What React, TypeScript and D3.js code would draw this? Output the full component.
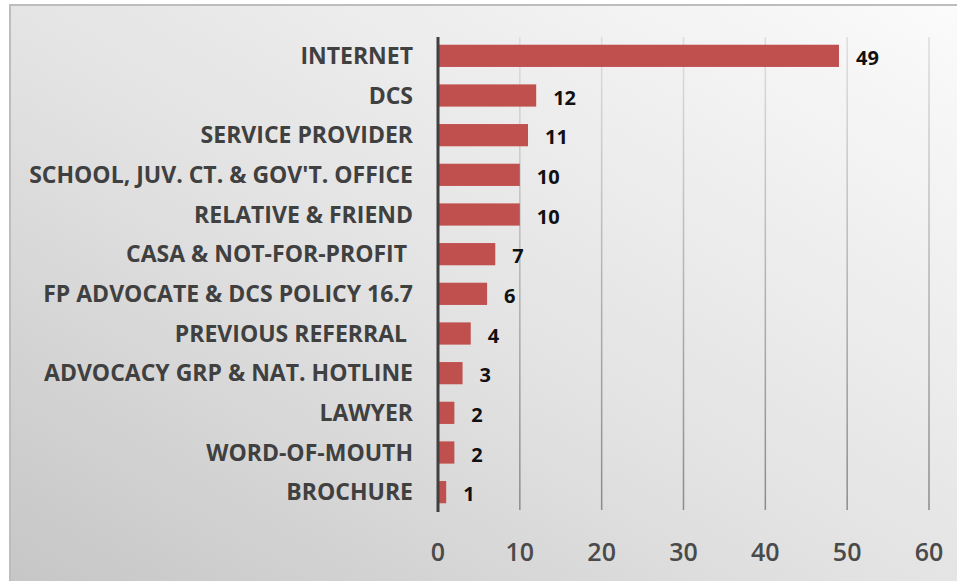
import React, { useEffect, useRef } from 'react';
import * as d3 from 'd3';

const categories = [
  'INTERNET',
  'DCS',
  'SERVICE PROVIDER',
  "SCHOOL, JUV. CT. & GOV'T. OFFICE",
  'RELATIVE & FRIEND',
  'CASA & NOT-FOR-PROFIT ',
  'FP ADVOCATE & DCS POLICY 16.7',
  'PREVIOUS REFERRAL ',
  'ADVOCACY GRP & NAT. HOTLINE',
  'LAWYER',
  'WORD-OF-MOUTH',
  'BROCHURE',
];
const counts = [49, 12, 11, 10, 10, 7, 6, 4, 3, 2, 2, 1];
const xTicks = [0, 10, 20, 30, 40, 50, 60];

const width = 957;
const height = 581;

const App = () => {
  const ref = useRef<SVGSVGElement>(null);

  useEffect(() => {
    const svg = d3.select(ref.current);
    svg.selectAll('*').remove();

    const defs = svg.append('defs');
    const bg = defs
      .append('linearGradient')
      .attr('id', 'bg')
      .attr('x1', 1)
      .attr('y1', 0)
      .attr('x2', 0)
      .attr('y2', 1);
    bg.append('stop').attr('offset', 0).attr('stop-color', '#fbfbfb');
    bg.append('stop').attr('offset', 0.55).attr('stop-color', '#e2e2e2');
    bg.append('stop').attr('offset', 1).attr('stop-color', '#c6c6c6');

    const gl = defs
      .append('linearGradient')
      .attr('id', 'grid')
      .attr('gradientUnits', 'userSpaceOnUse')
      .attr('x1', 0)
      .attr('y1', 37)
      .attr('x2', 0)
      .attr('y2', 510);
    gl.append('stop').attr('offset', 0).attr('stop-color', '#dedede');
    gl.append('stop').attr('offset', 1).attr('stop-color', '#8a8a8a');

    // panel with a soft edge
    svg
      .append('rect')
      .attr('x', 9)
      .attr('y', 4)
      .attr('width', width)
      .attr('height', height)
      .attr('fill', '#bdbdbd');
    svg
      .append('rect')
      .attr('x', 11)
      .attr('y', 6)
      .attr('width', width)
      .attr('height', height)
      .attr('fill', 'url(#bg)');

    const x = d3.scaleLinear().domain([0, 60]).range([438, 929]);
    const y = d3
      .scaleBand()
      .domain(categories)
      .range([36, 512])
      .paddingInner(0.44)
      .paddingOuter(0.22);

    svg
      .append('g')
      .selectAll('line')
      .data(xTicks.slice(1))
      .join('line')
      .attr('x1', (d) => x(d))
      .attr('x2', (d) => x(d))
      .attr('y1', 37)
      .attr('y2', 510)
      .attr('stroke', 'url(#grid)')
      .attr('stroke-width', 1.5);

    const rows = categories.map((c, i) => ({ c, v: counts[i] }));

    svg
      .append('g')
      .selectAll('rect')
      .data(rows)
      .join('rect')
      .attr('x', x(0))
      .attr('y', (d) => y(d.c)!)
      .attr('width', (d) => x(d.v) - x(0))
      .attr('height', y.bandwidth())
      .attr('fill', '#c0504d');

    svg
      .append('line')
      .attr('x1', x(0))
      .attr('x2', x(0))
      .attr('y1', 37)
      .attr('y2', 512)
      .attr('stroke', '#404040')
      .attr('stroke-width', 3);

    svg
      .append('g')
      .selectAll('text')
      .data(rows)
      .join('text')
      .attr('x', 413)
      .attr('y', (d) => y(d.c)! + y.bandwidth() / 2)
      .attr('dy', '0.35em')
      .attr('text-anchor', 'end')
      .attr('font-family', '"Open Sans", sans-serif')
      .attr('font-weight', 'bold')
      .attr('font-size', 23)
      .attr('fill', '#404040')
      .style('white-space', 'pre')
      .text((d) => d.c);

    svg
      .append('g')
      .selectAll('text')
      .data(rows)
      .join('text')
      .attr('x', (d) => x(d.v) + 17)
      .attr('y', (d) => y(d.c)! + y.bandwidth() / 2 + 2)
      .attr('dy', '0.35em')
      .attr('font-family', '"Open Sans", sans-serif')
      .attr('font-weight', 'bold')
      .attr('font-size', 20)
      .attr('fill', '#111')
      .text((d) => d.v);

    svg
      .append('g')
      .selectAll('text')
      .data(xTicks)
      .join('text')
      .attr('x', (d) => x(d))
      .attr('y', 552)
      .attr('dy', '0.35em')
      .attr('text-anchor', 'middle')
      .attr('font-family', '"Open Sans", sans-serif')
      .attr('font-weight', 600)
      .attr('font-size', 25)
      .attr('fill', '#4a4a4a')
      .text((d) => d);
  }, []);

  return (
    <svg
      ref={ref}
      width={width}
      height={height}
      style={{ position: 'absolute', left: 0, top: 0, background: '#fff' }}
    />
  );
};

export default App;
